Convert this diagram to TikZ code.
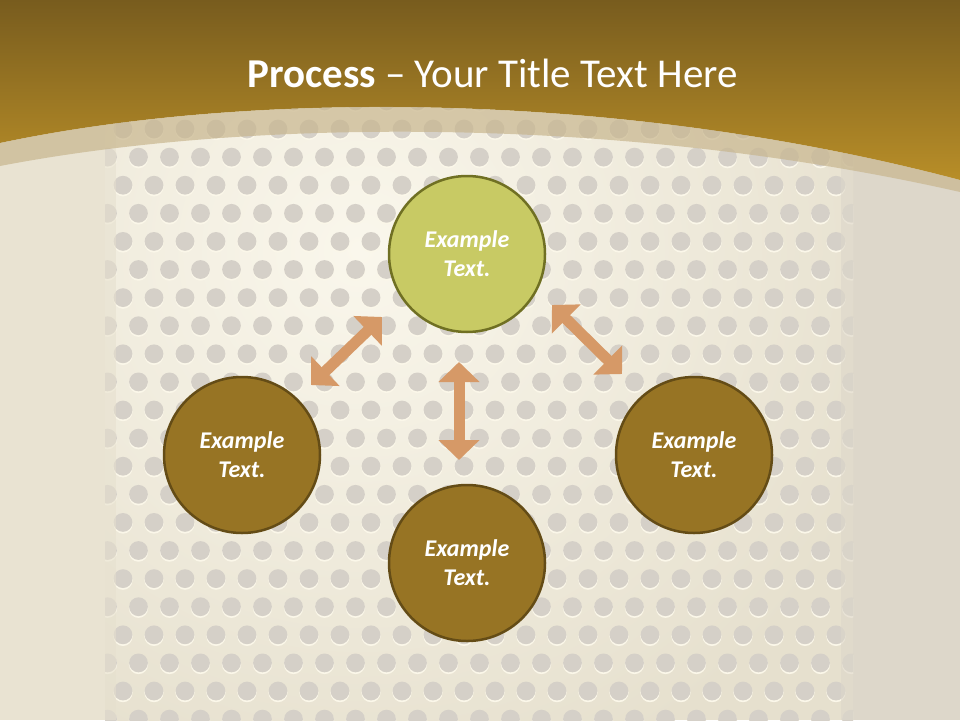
\documentclass[tikz,border=0pt]{standalone}
\usepackage{fontspec}
\setmainfont{Carlito}
\usetikzlibrary{arrows.meta}
\definecolor{goldtop}{RGB}{120,92,30}
\definecolor{goldbot}{RGB}{184,142,40}
\definecolor{stripc}{RGB}{200,182,142}
\definecolor{outl}{RGB}{233,227,210}
\definecolor{outr}{RGB}{221,215,202}
\definecolor{panelhi}{RGB}{250,247,236}
\definecolor{panello}{RGB}{230,224,206}
\definecolor{dotc}{RGB}{213,208,200}
\definecolor{dothi}{RGB}{251,247,233}
\definecolor{greenfill}{RGB}{200,202,100}
\definecolor{greenline}{RGB}{112,112,35}
\definecolor{brownfill}{RGB}{151,116,36}
\definecolor{brownline}{RGB}{100,76,22}
\definecolor{arrowc}{RGB}{214,153,103}
\begin{document}
\begin{tikzpicture}[x=1pt,y=-1pt,
  stepcircle/.style={circle, minimum size=156pt, line width=2.5pt, inner sep=0pt,
    align=center, text=white, font=\fontsize{24}{29}\selectfont\bfseries\itshape},
  greencircle/.style={stepcircle, draw=greenline, fill=greenfill},
  browncircle/.style={stepcircle, draw=brownline, fill=brownfill},
  dblarrow/.style={draw=arrowc, line width=11pt,
    {Triangle[width=40pt,length=20pt]}-{Triangle[width=40pt,length=20pt]}},
]
\useasboundingbox (0,0) rectangle (960,720);
% outer background
\fill[outl] (0,0) rectangle (105,720);
\fill[outr] (853,0) rectangle (960,720);
% perforated panel
\begin{scope}
  \clip (105,0) rectangle (853,720);
  \fill[panello] (105,0) rectangle (853,720);
  \shade[inner color=panelhi, outer color=panello] (360,250) circle (560);
  \foreach \j in {-1,...,21} {
    \pgfmathsetmacro\yy{129+28.1*\j}
    \pgfmathsetmacro\xo{mod(\j,2)==0 ? 123 : 138.5}
    \foreach \i in {-1,...,24} {
      \fill[dothi] (\xo+31*\i, \yy+1.6) circle (9.6);
      \fill[dotc] (\xo+31*\i, \yy) circle (9.4);
    }
  }
  \fill[panello, opacity=0.55] (105,0) rectangle (116,720);
  \fill[outr, opacity=0.6] (841,0) rectangle (853,720);
\end{scope}
% golden band
\shade[top color=goldtop, bottom color=goldbot]
  (0,0) -- (960,0) -- (960,180) .. controls (620,90) and (250,90) .. (0,143) -- cycle;
\fill[stripc, opacity=0.7]
  (0,143) .. controls (250,90) and (620,90) .. (960,180)
  -- (960,192) .. controls (620,115) and (250,118) .. (0,166) -- cycle;
% title
\node[anchor=base, text=white, font=\fontsize{41}{48}\selectfont, inner sep=0pt]
  (title) at (492.5,87) {\textbf{Process} – Your Title Text Here};
% circles
\node[greencircle] (top) at (467,254) {Example\\Text.};
\node[browncircle] (left) at (242,455) {Example\\Text.};
\node[browncircle] (right) at (694,455) {Example\\Text.};
\node[browncircle] (bottom) at (467,563) {Example\\Text.};
% arrows
\coordinate (la) at (311,385);
\coordinate (lb) at (382,317);
\coordinate (ra) at (552,305);
\coordinate (rb) at (622,374);
\coordinate (va) at (459,362);
\coordinate (vb) at (459,460);
\draw[dblarrow] (la) -- (lb);
\draw[dblarrow] (ra) -- (rb);
\draw[dblarrow] (va) -- (vb);
\end{tikzpicture}
\end{document}
